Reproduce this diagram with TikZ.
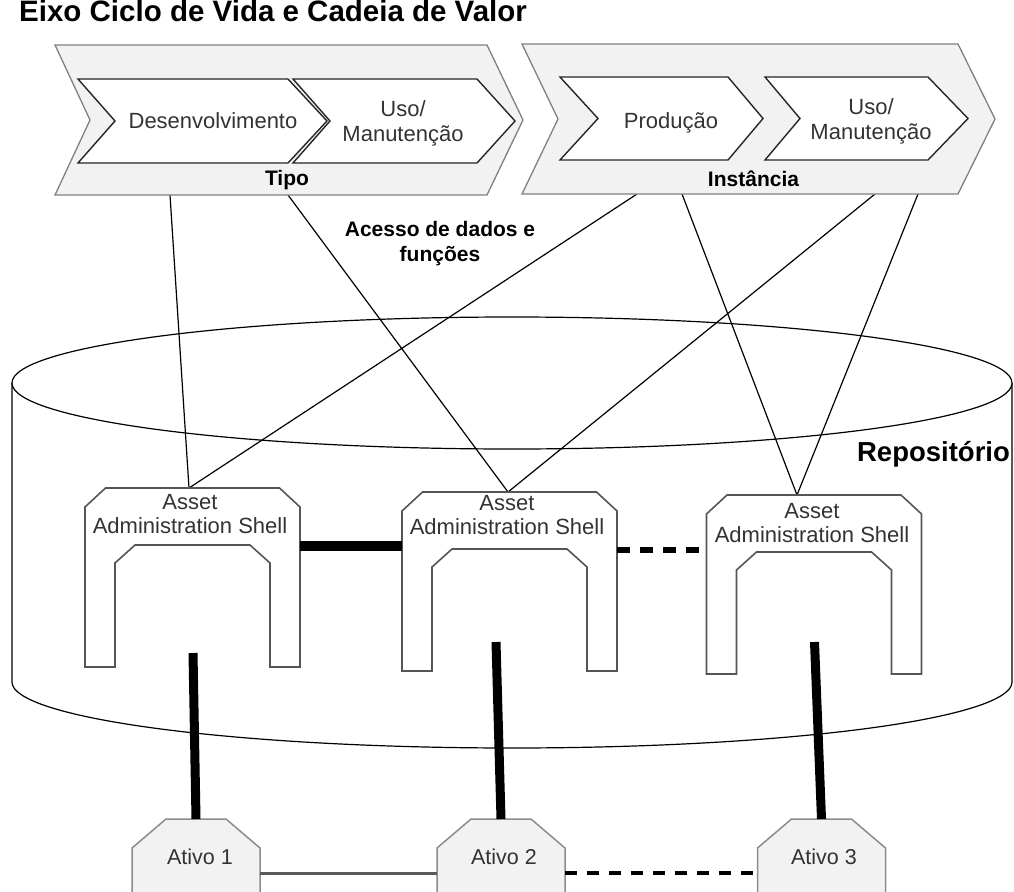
\documentclass[tikz,border=0pt]{standalone}
\usepackage{fontspec}
\setmainfont{Liberation Sans}
\usetikzlibrary{calc}

\definecolor{panelfill}{HTML}{F2F2F2}
\definecolor{panelline}{HTML}{808080}
\definecolor{inkline}{HTML}{262626}
\definecolor{shellstroke}{HTML}{555555}
\definecolor{bodytext}{HTML}{333333}
\definecolor{assetstroke}{HTML}{8C8C8C}
\definecolor{linkgray}{HTML}{5A5A5A}

% chevron: style, left, right, tip, notch, top, bottom
\newcommand{\chevronpath}[7]{%
  \draw[#1] (#2,#6) -- (#3,#6) -- (#4,{(#6+#7)/2}) -- (#3,#7) -- (#2,#7) -- (#5,{(#6+#7)/2}) -- cycle;}

\tikzset{
  outerchev/.style={draw=panelline, fill=panelfill, line width=1.3pt},
  innerchev/.style={draw=inkline, fill=white, line width=1.4pt},
  stagetext/.style={text=bodytext, font=\fontsize{22}{25}\selectfont, align=center, inner sep=0pt},
  shelltext/.style={text=bodytext, font=\fontsize{22}{24}\selectfont, align=center, inner sep=0pt},
  assettext/.style={text=bodytext, font=\fontsize{21.5}{24}\selectfont, inner sep=0pt},
  boldlabel/.style={font=\bfseries\fontsize{21}{25}\selectfont, align=center, inner sep=0pt},
  biglabel/.style={font=\bfseries\fontsize{27.5}{30}\selectfont, inner sep=0pt},
  titlelabel/.style={font=\bfseries\fontsize{29.5}{32}\selectfont, inner sep=0pt},
  cylline/.style={draw=black, line width=1.2pt, fill=white},
  access/.style={draw=black, line width=1.2pt},
  shelledge/.style={draw=shellstroke, line width=1.6pt, fill=white},
  assetedge/.style={draw=assetstroke, line width=1.5pt, fill=panelfill},
  heavylink/.style={draw=black, line width=10pt},
  heavydash/.style={draw=black, line width=5.5pt, dash pattern=on 13pt off 10pt},
  portlink/.style={draw=black, line width=9pt},
  assetlink/.style={draw=linkgray, line width=3pt},
  assetdash/.style={draw=black, line width=3.5pt, dash pattern=on 11.5pt off 10.5pt},
  aas/.pic={
    \draw[shelledge] (-107.5,179) -- (-107.5,19) -- (-87,0) -- (87,0) -- (107.5,19)
      -- (107.5,179) -- (77.5,179) -- (77.5,75) -- (57.5,57) -- (-57.5,57)
      -- (-77.5,75) -- (-77.5,179) -- cycle;
    \coordinate (-top) at (0,0);
    \coordinate (-west) at (-107.5,58);
    \coordinate (-east) at (107.5,58);
  },
  asset/.pic={
    \draw[assetedge] (-64,100) -- (-64,29) -- (-30,0) -- (30,0) -- (64,29) -- (64,100) -- cycle;
    \coordinate (-top) at (0,0);
    \coordinate (-west) at (-64,54);
    \coordinate (-east) at (64,54);
  }
}

\begin{document}
\begin{tikzpicture}[x=1pt, y=-1pt]
  \clip (0,0) rectangle (1014,891);

  % repository cylinder
  \draw[cylline] (12,383) -- (12,682)
    -- plot[smooth, domain=180:360, samples=61] ({512+500*cos(\x)}, {682-66*sin(\x)})
    -- (1012,383);
  \draw[cylline] (512,383) ellipse [x radius=500, y radius=66];
  \node[biglabel, anchor=base] (repo) at (933.5,461.7) {Repositório};

  % ends of the data-access lines on the lifecycle panels
  \coordinate (c1a) at (170,195);
  \coordinate (c1b) at (288,195);
  \coordinate (c2a) at (637,194);
  \coordinate (c2b) at (682,194);
  \coordinate (c2c) at (875,194);
  \coordinate (c2d) at (918,194);
  % where they meet the shells
  \coordinate (v1) at (189,488);
  \coordinate (v2) at (508,492);
  \coordinate (v3) at (797,495);

  \draw[access] (c1a) -- (v1);
  \draw[access] (c2a) -- (v1);
  \draw[access] (c1b) -- (v2);
  \draw[access] (c2c) -- (v2);
  \draw[access] (c2b) -- (v3);
  \draw[access] (c2d) -- (v3);

  % lifecycle / value chain panels
  \chevronpath{outerchev}{55}{487}{523}{90}{45}{195}
  \chevronpath{outerchev}{522}{958}{995}{558}{44}{194}
  \chevronpath{innerchev}{78}{288}{327}{115}{79}{163}
  \chevronpath{innerchev}{293}{477}{515}{330}{79}{163}
  \chevronpath{innerchev}{560}{728}{763}{598}{77}{160}
  \chevronpath{innerchev}{765}{928}{968}{800}{77}{160}

  \node[titlelabel, anchor=base west] (title) at (19,22)
    {Eixo Ciclo de Vida e Cadeia de Valor};
  \node[stagetext] (dev) at (213,121) {Desenvolvimento};
  \node[stagetext] (use1) at (403,123.75) {Uso/\\Manutenção};
  \node[stagetext] (prod) at (671,123.3) {Produção};
  \node[stagetext] (use2) at (871,121.75) {Uso/\\Manutenção};
  \node[boldlabel, anchor=base] (tipo) at (287,185) {Tipo};
  \node[boldlabel, anchor=base] (inst) at (753.5,186) {Instância};
  \node[boldlabel] (acc) at (440,243.7) {Acesso de dados e\\funções};

  % asset administration shells
  \pic (s1) at (192.5,488) {aas};
  \pic (s2) at (509.5,492) {aas};
  \pic (s3) at (814,495) {aas};
  \node[shelltext] (t1) at (190,514.5) {Asset\\Administration Shell};
  \node[shelltext] (t2) at (507,515.5) {Asset\\Administration Shell};
  \node[shelltext] (t3) at (812,523) {Asset\\Administration Shell};

  \draw[heavylink] (s1-east) -- (s1-east -| s2-west);
  \draw[heavydash] (s2-east) -- (s2-east -| s3-west);

  % assets
  \pic (a1) at (196,819) {asset};
  \pic (a2) at (501,819) {asset};
  \pic (a3) at (821.5,819) {asset};
  \node[assettext] (n1) at (200,857) {Ativo 1};
  \node[assettext] (n2) at (504,857) {Ativo 2};
  \node[assettext] (n3) at (824,857) {Ativo 3};

  \draw[assetlink] (a1-east) -- (a2-west);
  \draw[assetdash] (a2-east) -- (a3-west);

  % shell-to-asset links
  \coordinate (p1) at (193,653);
  \coordinate (p2) at (496,642);
  \coordinate (p3) at (814.5,642);
  \draw[portlink] (p1) -- (a1-top);
  \draw[portlink] (p2) -- (a2-top);
  \draw[portlink] (p3) -- (a3-top);
\end{tikzpicture}
\end{document}
